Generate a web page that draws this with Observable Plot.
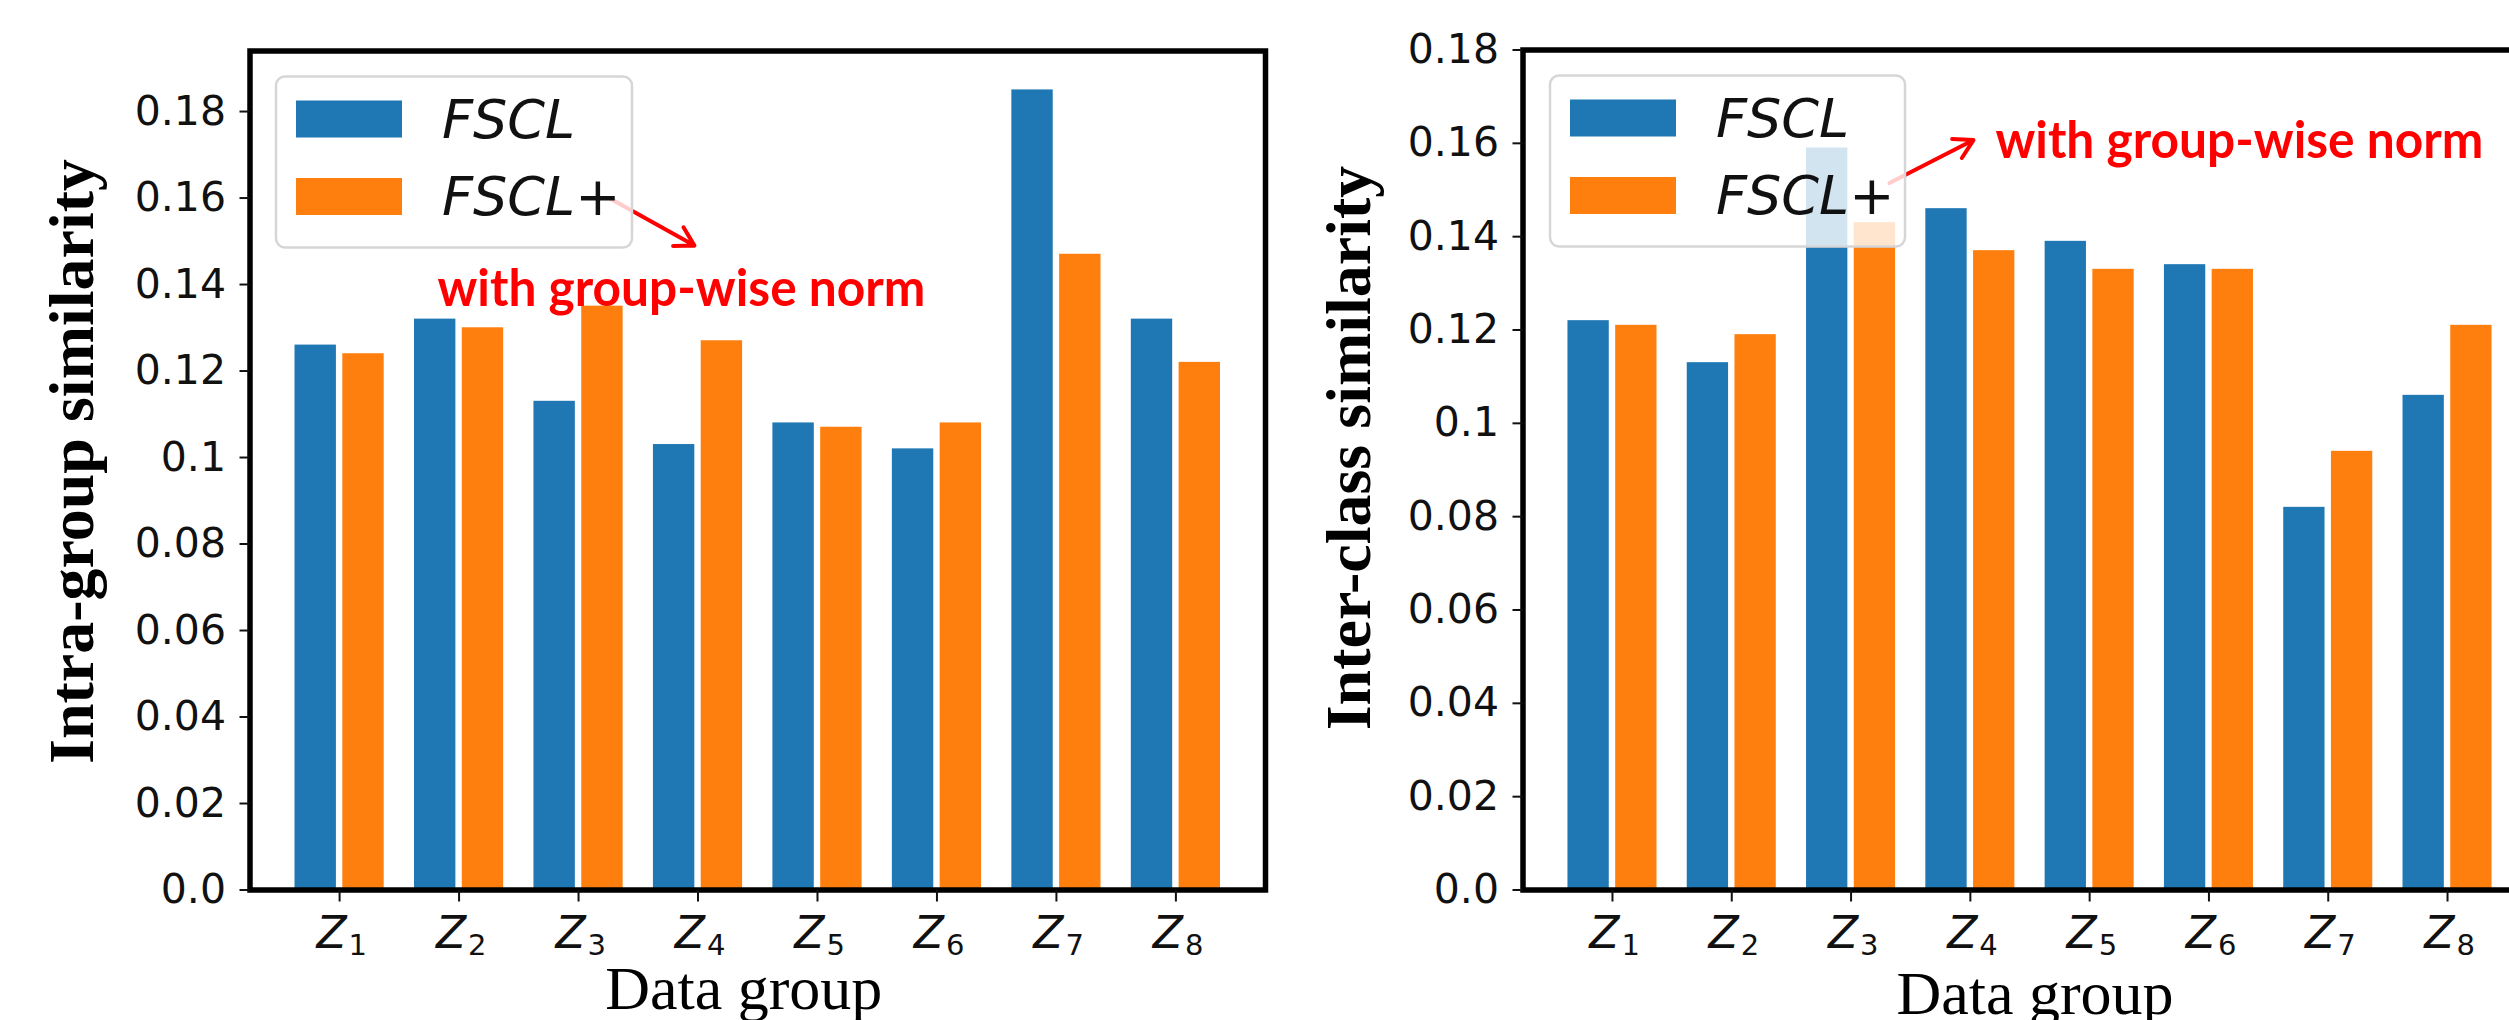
<!DOCTYPE html>
<html><head><meta charset="utf-8">
<script src="https://cdn.jsdelivr.net/npm/d3@7"></script>
<script src="https://cdn.jsdelivr.net/npm/@observablehq/plot@0.6"></script>
<style>
html,body{margin:0;padding:0;background:#fff;width:2509px;height:1020px;overflow:hidden;}
#wrap{position:relative;width:2509px;height:1020px;overflow:hidden;}
.panel{position:absolute;top:0;height:1020px;width:1300px;}
#left{left:0;}
#right{left:1300px;}
#overlay{position:absolute;left:0;top:0;}
</style></head><body><div id="wrap"><div id="left" class="panel"></div><div id="right" class="panel"></div></div>
<script>
// ---- data ----
const groups = ["1","2","3","4","5","6","7","8"];
const series = ["FSCL", "FSCL+"];
const intraFSCL     = [0.126, 0.132, 0.113, 0.103, 0.108, 0.102, 0.185, 0.132];
const intraFSCLplus = [0.124, 0.130, 0.135, 0.127, 0.107, 0.108, 0.147, 0.122];
const interFSCL     = [0.122, 0.113, 0.159, 0.146, 0.139, 0.134, 0.082, 0.106];
const interFSCLplus = [0.121, 0.119, 0.143, 0.137, 0.133, 0.133, 0.094, 0.121];
const yTicks = [0, 0.02, 0.04, 0.06, 0.08, 0.1, 0.12, 0.14, 0.16, 0.18];
const yTickLabels = ["0.0","0.02","0.04","0.06","0.08","0.1","0.12","0.14","0.16","0.18"];
const colors = ["#1f77b4", "#ff7f0e"];
const xLabel = "Data group";
const intraLabel = "Intra-group similarity";
const interLabel = "Inter-class similarity";
const noteText = "with group-wise norm";
// annotation anchors in data units (x: group index, y: similarity)
const intraNote = [{x1: 2.263, y1: 0.1599, x2: 2.970, y2: 0.1490, tx: 0.819, ty: 0.1351, label: noteText}];
const interNote = [{x1: 2.322, y1: 0.1515, x2: 3.026, y2: 0.1607, tx: 3.210, ty: 0.1568, label: noteText}];

function panel(o) {
  const data = [];
  o.values.forEach((arr, s) => arr.forEach((v, i) => data.push({i, s: series[s], v})));
  const idx = groups.map((g, i) => i);
  return Plot.plot({
    width: 1300, height: 1020,
    marginLeft: o.mLeft, marginRight: o.mRight, marginTop: o.mTop, marginBottom: 130.5,
    x: {domain: [-0.75, 7.75]},
    y: {domain: [0, o.yMax]},
    color: {domain: series, range: colors},
    style: {background: "transparent", maxWidth: "none", overflow: "visible"},
    marks: [
      Plot.rect(data, {
        x1: d => d.i + (d.s === series[0] ? -0.4 : 0),
        x2: d => d.i + (d.s === series[0] ? 0 : 0.4),
        y1: 0, y2: "v", fill: "s", insetLeft: 3.2, insetRight: 3.2
      }),
      Plot.frame({stroke: "black", strokeWidth: 5.5}),
      Plot.axisY({ticks: yTicks, tickFormat: d => yTickLabels[yTicks.indexOf(d)], tickSize: 10, tickPadding: 14,
        fontSize: 41, fontFamily: "DejaVu Sans", color: "#111", strokeWidth: 2, label: null}),
      Plot.axisX({ticks: idx, tickFormat: () => "", tickSize: 12, color: "#111", strokeWidth: 2, label: null}),
      Plot.text(idx, {x: d => d, text: () => "Z", frameAnchor: "bottom", textAnchor: "end", lineAnchor: "bottom",
        dx: 7, dy: 57.5, fontSize: 44, fontStyle: "italic", fontFamily: "DejaVu Sans", fill: "#111"}),
      Plot.text(idx, {x: d => d, text: d => groups[d], frameAnchor: "bottom", textAnchor: "start", lineAnchor: "bottom",
        dx: 9, dy: 64.5, fontSize: 29, fontFamily: "DejaVu Sans", fill: "#111"}),
      Plot.text([o.yLabel], {frameAnchor: "left", rotate: -90, textAnchor: "middle", lineAnchor: "bottom",
        dx: o.yLabelDx, dy: o.yLabelDy, fontSize: 64, fontWeight: "bold", fontFamily: "Liberation Serif", fill: "#000"}),
      Plot.text([xLabel], {frameAnchor: "bottom", textAnchor: "middle", lineAnchor: "bottom",
        dx: o.xLabelDx, dy: o.xLabelDy, fontSize: 62, fontFamily: "Liberation Serif", fill: "#000"}),
      Plot.arrow(o.note, {x1: "x1", y1: "y1", x2: "x2", y2: "y2", stroke: "#ff0000", strokeWidth: 4}),
      Plot.text(o.note, {x: "tx", y: "ty", text: "label", textAnchor: "start", lineAnchor: "bottom",
        fill: "#ff0000", fontSize: 51, fontWeight: "bold", fontFamily: "Lato"})
    ]
  });
}

const left = panel({values: [intraFSCL, intraFSCLplus], yMax: 0.194, mLeft: 249.5, mRight: 35, mTop: 50.5,
  yLabel: intraLabel, yLabelDx: -157.5, yLabelDy: -9, xLabelDx: -14, xLabelDy: 118.5, note: intraNote});
const right = panel({values: [interFSCL, interFSCLplus], yMax: 0.18, mLeft: 222.5, mRight: 63.5, mTop: 49.5,
  yLabel: interLabel, yLabelDx: -153.5, yLabelDy: -22, xLabelDx: 5, xLabelDy: 123.5, note: interNote});
document.getElementById("left").appendChild(left);
document.getElementById("right").appendChild(right);

// fit annotation width to reference
d3.selectAll("text").filter(function() { return this.textContent === noteText; })
  .attr("textLength", 488).attr("lengthAdjust", "spacingAndGlyphs");

// legends overlay
const ov = d3.select("#wrap").append("svg").attr("id", "overlay").attr("width", 2509).attr("height", 1020);
function legend(x0, y0, w, h) {
  const g = ov.append("g");
  g.append("rect").attr("x", x0).attr("y", y0).attr("width", w).attr("height", h).attr("rx", 9)
    .attr("fill", "white").attr("fill-opacity", 0.8).attr("stroke", "#d6d6d6").attr("stroke-width", 2.5);
  series.forEach((s, k) => {
    const top = y0 + 24 + k * 77.5;
    g.append("rect").attr("x", x0 + 20).attr("y", top).attr("width", 106).attr("height", 37).attr("fill", colors[k]);
    const t = g.append("text").attr("x", x0 + 166).attr("y", top + 37)
      .attr("font-family", "DejaVu Sans").attr("font-size", 54).attr("fill", "#111");
    t.append("tspan").attr("font-style", "italic").text("FSCL");
    if (s.endsWith("+")) t.append("tspan").text("+");
  });
}
legend(276, 76.5, 356, 171);
legend(1550, 75.5, 355, 171);
</script></body></html>
